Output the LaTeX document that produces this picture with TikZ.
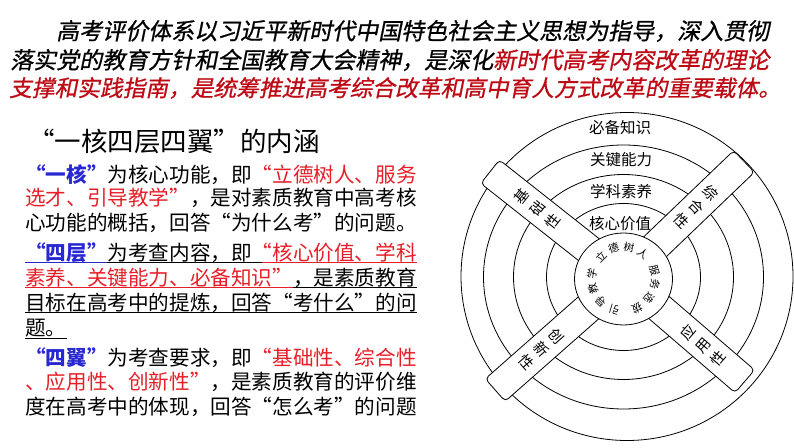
\documentclass[tikz,border=0pt]{standalone}
\usepackage{fontspec}
\newfontfamily\cjk[RawFeature={+fwid}]{Noto Sans CJK SC}
\newfontfamily\cjkslant[FakeSlant=0.2,FakeBold=0.8]{Noto Sans CJK SC}
\definecolor{kblue}{RGB}{40,40,210}
\definecolor{kred}{RGB}{230,30,40}
\definecolor{dred}{RGB}{190,10,20}
\begin{document}
\begin{tikzpicture}[x=1pt,y=1pt,
  para/.style={anchor=west, inner sep=0, font=\cjkslant\fontsize{23}{23}\selectfont},
  body/.style={anchor=west, inner sep=0, font=\cjk\fontsize{20.6}{20.6}\selectfont},
  ring/.style={line width=0.8pt},
  band/.style={draw, fill=white, line width=0.8pt, rounded corners=4pt},
  lab/.style={font=\cjk\fontsize{15.5}{15.5}\selectfont, inner sep=0},
  wing/.style={font=\cjk\fontsize{14.5}{20}\selectfont, align=center, inner sep=0},
  core/.style={font=\cjk\fontsize{10.5}{10.5}\selectfont, inner sep=0},
  uline/.style={line width=1pt}]
\useasboundingbox (0,0) rectangle (794,447);
% top paragraph
\node[para] (p1) at (56,416) {高考评价体系以习近平新时代中国特色社会主义思想为指导，深入贯彻};
\node[para] (p2) at (10,387) {落实党的教育方针和全国教育大会精神，是深化\textcolor{dred}{新时代高考内容改革的理论}};
\node[para, text=dred, font=\cjkslant\fontsize{22.7}{22.7}\selectfont] (p3) at (9,359) {支撑和实践指南，是统筹推进高考综合改革和高中育人方式改革的重要载体。};
% left panel
\node[anchor=west, inner sep=0, font=\cjk\fontsize{26.5}{26.5}\selectfont] (title) at (28,306) {“一核四层四翼”的内涵};
\node[body] (l1) at (25,272) {\textcolor{kblue}{\bfseries “一核”}为核心功能，即\textcolor{kred}{“立德树人、服务}};
\node[body] (l2) at (25,249) {\textcolor{kred}{选才、引导教学”}，是对素质教育中高考核};
\node[body] (l3) at (25,224) {心功能的概括，回答“为什么考”的问题。};
\node[body] (l4) at (25,194) {\textcolor{kblue}{\bfseries “四层”}为考查内容，即\textcolor{kred}{“核心价值、学科}};
\node[body] (l5) at (25,169) {\textcolor{kred}{素养、关键能力、必备知识”}，是素质教育};
\node[body] (l6) at (25,144) {目标在高考中的提炼，回答“考什么”的问};
\node[body] (l7) at (25,119) {题。};
\node[body] (l8) at (25,89) {\textcolor{kblue}{\bfseries “四翼”}为考查要求，即\textcolor{kred}{“基础性、综合性}};
\node[body] (l9) at (25,65) {\textcolor{kred}{、应用性、创新性”}，是素质教育的评价维};
\node[body] (l10) at (25,40) {度在高考中的体现，回答“怎么考”的问题};
% underlines
\draw[uline, kblue] (25,184) -- (107,184);
\draw[uline, black] (107,184) -- (262,184);
\draw[uline, kred] (262,184) -- (417,184);
\draw[uline, kred] (25,159) -- (293,159);
\draw[uline, black] (293,159) -- (417,159);
\draw[uline, black] (25,134) -- (417,134);
\draw[uline, black] (25,109) -- (67,109);
% diagram
\coordinate (C) at (623.5,170);
\coordinate (D) at (623.5,168);
\draw[ring] (627,170.5) ellipse [x radius=166, y radius=164];
\draw[ring] (C) ellipse [x radius=140, y radius=132];
\draw[ring] (C) ellipse [x radius=110, y radius=102.5];
\draw[ring] (C) ellipse [x radius=77, y radius=73.5];
\foreach \a/\l in {141.7/170, 43.8/167, 221.4/171, -40.7/160} {
  \begin{scope}[shift={(C)}, rotate=\a]
    \draw[band] (0,-15) rectangle (\l,15);
  \end{scope}
}
\draw[ring, fill=white] (D) ellipse [x radius=49, y radius=46];
\node[lab] (k4) at (620,319) {必备知识};
\node[lab] (k3) at (621,287) {关键能力};
\node[lab] (k2) at (621,255) {学科素养};
\node[lab] (k1) at (620,223) {核心价值};
\node[wing, rotate=51.7] (w1) at ([shift={(141.7:110)}]C) {基\\础\\性};
\node[wing, rotate=-46.2] (w2) at ([shift={(43.8:101)}]C) {综\\合\\性};
\node[wing, rotate=-48.6] (w3) at ([shift={(221.4:109)}]C) {创\\新\\性};
\node[wing, rotate=49.3] (w4) at ([shift={(-40.7:105)}]C) {应\\用\\性};
\foreach \c/\a in {立/135, 德/108, 树/80, 人/52, 服/16, 务/-10, 选/-37, 拔/-65, 引/-107, 导/-135, 教/-162, 学/-189}
  \node[core, rotate=\a-90] at ([shift={(\a:32)}]D) {\c};
\end{tikzpicture}
\end{document}
